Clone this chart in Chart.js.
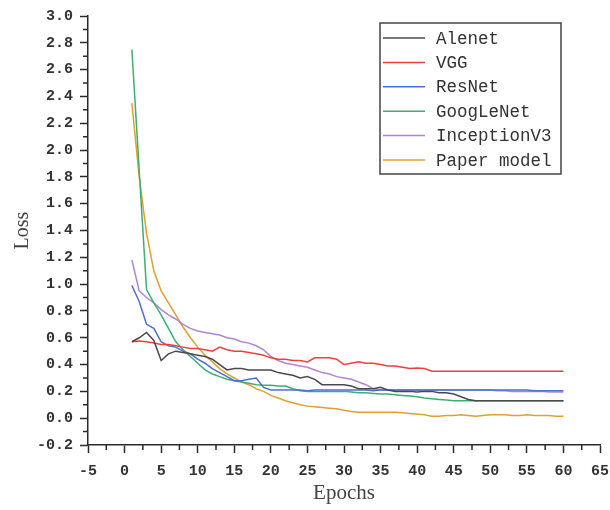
<!DOCTYPE html>
<html>
<head>
<meta charset="utf-8">
<script src="https://cdn.jsdelivr.net/npm/chart.js@4/dist/chart.umd.min.js"></script>
<style>
  html, body { margin: 0; padding: 0; background: #fff; }
  #wrap { width: 610px; height: 510px; }
</style>
</head>
<body>
<div id="wrap"><canvas id="graphic"></canvas></div>
<script>
// Training loss per epoch
const epochs = Array.from({ length: 60 }, (_, i) => i + 1);

const alenet = [0.57, 0.60, 0.64, 0.58, 0.43, 0.48, 0.50, 0.49, 0.48, 0.47,
  0.46, 0.44, 0.40, 0.36, 0.37, 0.37, 0.36, 0.36, 0.36, 0.36,
  0.34, 0.33, 0.32, 0.30, 0.31, 0.29, 0.25, 0.25, 0.25, 0.25,
  0.24, 0.22, 0.22, 0.22, 0.23, 0.21, 0.20, 0.20, 0.20, 0.195,
  0.20, 0.20, 0.19, 0.19, 0.18, 0.16, 0.14, 0.13, 0.13, 0.13,
  0.13, 0.13, 0.13, 0.13, 0.13, 0.13, 0.13, 0.13, 0.13, 0.13];

const vgg = [0.57, 0.575, 0.57, 0.56, 0.55, 0.55, 0.54, 0.53, 0.52, 0.52,
  0.51, 0.50, 0.53, 0.51, 0.50, 0.50, 0.49, 0.48, 0.47, 0.45,
  0.44, 0.44, 0.43, 0.43, 0.42, 0.45, 0.45, 0.45, 0.44, 0.40,
  0.41, 0.42, 0.41, 0.41, 0.40, 0.39, 0.39, 0.38, 0.37, 0.375,
  0.37, 0.35, 0.35, 0.35, 0.35, 0.35, 0.35, 0.35, 0.35, 0.35,
  0.35, 0.35, 0.35, 0.35, 0.35, 0.35, 0.35, 0.35, 0.35, 0.35];

const resnet = [0.99, 0.87, 0.70, 0.67, 0.57, 0.54, 0.53, 0.50, 0.48, 0.44,
  0.41, 0.37, 0.34, 0.31, 0.28, 0.28, 0.29, 0.30, 0.23, 0.21,
  0.21, 0.21, 0.21, 0.21, 0.205, 0.21, 0.21, 0.21, 0.21, 0.21,
  0.21, 0.21, 0.21, 0.205, 0.21, 0.21, 0.21, 0.21, 0.21, 0.21,
  0.21, 0.21, 0.21, 0.21, 0.21, 0.21, 0.21, 0.21, 0.21, 0.21,
  0.21, 0.21, 0.21, 0.21, 0.21, 0.205, 0.205, 0.205, 0.205, 0.205];

const googlenet = [2.75, 1.85, 0.96, 0.86, 0.77, 0.67, 0.57, 0.51, 0.46, 0.41,
  0.36, 0.33, 0.31, 0.29, 0.28, 0.27, 0.26, 0.25, 0.245, 0.245,
  0.24, 0.24, 0.22, 0.205, 0.20, 0.20, 0.20, 0.20, 0.20, 0.20,
  0.195, 0.19, 0.19, 0.185, 0.18, 0.18, 0.175, 0.17, 0.165, 0.16,
  0.15, 0.145, 0.14, 0.135, 0.13, 0.13, 0.13, 0.13, 0.13, 0.13,
  0.13, 0.13, 0.13, 0.13, 0.13, 0.13, 0.13, 0.13, 0.13, 0.13];

const inception = [1.18, 0.95, 0.90, 0.86, 0.81, 0.77, 0.74, 0.70, 0.67, 0.65,
  0.64, 0.63, 0.62, 0.60, 0.59, 0.57, 0.56, 0.54, 0.51, 0.46,
  0.43, 0.41, 0.40, 0.39, 0.38, 0.36, 0.34, 0.33, 0.31, 0.30,
  0.29, 0.27, 0.25, 0.22, 0.21, 0.21, 0.21, 0.21, 0.21, 0.21,
  0.21, 0.21, 0.21, 0.21, 0.21, 0.21, 0.21, 0.21, 0.21, 0.21,
  0.205, 0.205, 0.20, 0.20, 0.20, 0.20, 0.20, 0.195, 0.195, 0.195];

const paperModel = [2.35, 1.80, 1.38, 1.10, 0.95, 0.86, 0.77, 0.68, 0.60, 0.53,
  0.47, 0.42, 0.37, 0.33, 0.30, 0.27, 0.25, 0.22, 0.20, 0.17,
  0.15, 0.13, 0.115, 0.10, 0.09, 0.085, 0.08, 0.075, 0.07, 0.06,
  0.05, 0.045, 0.045, 0.045, 0.045, 0.045, 0.045, 0.04, 0.035, 0.03,
  0.025, 0.015, 0.015, 0.02, 0.02, 0.025, 0.02, 0.015, 0.02, 0.025,
  0.025, 0.025, 0.02, 0.02, 0.025, 0.02, 0.02, 0.02, 0.015, 0.015];

const seriesNames = ['Alenet', 'VGG', 'ResNet', 'GoogLeNet', 'InceptionV3', 'Paper model'];
const seriesValues = [alenet, vgg, resnet, googlenet, inception, paperModel];
const seriesColors = ['#4a4a4a', '#f0403c', '#4a70d0', '#3cb070', '#b283d8', '#e0a030'];

const axisColor = '#2a2a2a';

// Short minor ticks between the labelled ones, and the framed legend
const extras = {
  id: 'extras',
  afterDraw(chart) {
    const ctx = chart.ctx;
    const xs = chart.scales.x;
    const ys = chart.scales.y;
    ctx.save();
    ctx.strokeStyle = axisColor;
    ctx.lineWidth = 1.5;
    ctx.beginPath();
    for (let v = -2.5; v < 65; v += 5) {
      const px = xs.getPixelForValue(v);
      ctx.moveTo(px, ys.bottom);
      ctx.lineTo(px, ys.bottom + 5);
    }
    for (let v = -0.1; v < 3.0; v += 0.2) {
      const py = ys.getPixelForValue(v);
      ctx.moveTo(xs.left, py);
      ctx.lineTo(xs.left - 5, py);
    }
    ctx.stroke();

    // legend
    const bx = 380, by = 23, bw = 181, bh = 151;
    ctx.fillStyle = '#fff';
    ctx.fillRect(bx, by, bw, bh);
    ctx.strokeStyle = '#444';
    ctx.lineWidth = 1.5;
    ctx.strokeRect(bx, by, bw, bh);
    ctx.font = '17.5px "Liberation Mono"';
    ctx.textBaseline = 'middle';
    chart.data.datasets.forEach((ds, i) => {
      const y = 38 + i * 24.4;
      ctx.strokeStyle = ds.borderColor;
      ctx.lineWidth = 1.5;
      ctx.beginPath();
      ctx.moveTo(383, y);
      ctx.lineTo(425, y);
      ctx.stroke();
      ctx.fillStyle = '#333';
      ctx.fillText(ds.label, 436, y + 1);
    });
    ctx.restore();
  }
};

const chart = new Chart(document.querySelector('#graphic'), {
  type: 'line',
  data: {
    datasets: seriesNames.map((name, i) => ({
      label: name,
      data: epochs.map((e, j) => ({ x: e, y: seriesValues[i][j] })),
      borderColor: seriesColors[i],
      backgroundColor: seriesColors[i],
      borderWidth: 1.5,
      pointRadius: 0,
      tension: 0
    }))
  },
  options: {
    responsive: true,
    maintainAspectRatio: false,
    animation: false,
    layout: { padding: { top: 16, right: 10, bottom: 4, left: 4 } },
    plugins: {
      legend: { display: false },
      tooltip: { enabled: false }
    },
    scales: {
      x: {
        type: 'linear',
        min: -5,
        max: 65,
        grid: { drawOnChartArea: false, drawTicks: true, tickLength: 8, tickColor: axisColor, tickWidth: 1.5 },
        border: { color: axisColor, width: 1.5 },
        ticks: {
          stepSize: 5,
          color: '#333',
          font: { family: 'Liberation Mono', size: 15, weight: 'bold' },
          padding: 9,
          maxRotation: 0
        },
        title: { display: true, text: 'Epochs', color: '#444', font: { family: 'Liberation Serif', size: 21 }, padding: { top: 6, bottom: 0 } },
        afterFit(scale) {
          scale.height = 61;
          scale.paddingLeft = 0;
          scale.paddingRight = 0;
        }
      },
      y: {
        min: -0.2,
        max: 3.0,
        grid: { drawOnChartArea: false, drawTicks: true, tickLength: 8, tickColor: axisColor, tickWidth: 1.5 },
        border: { color: axisColor, width: 1.5 },
        ticks: {
          stepSize: 0.2,
          color: '#333',
          font: { family: 'Liberation Mono', size: 15, weight: 'bold' },
          padding: 7,
          callback: (v) => v.toFixed(1)
        },
        title: { display: true, text: 'Loss', color: '#444', font: { family: 'Liberation Serif', size: 20 }, padding: { top: 7, bottom: 0 } },
        afterFit(scale) { scale.width = 84; }
      }
    }
  },
  plugins: [extras]
});
</script>
</body>
</html>
